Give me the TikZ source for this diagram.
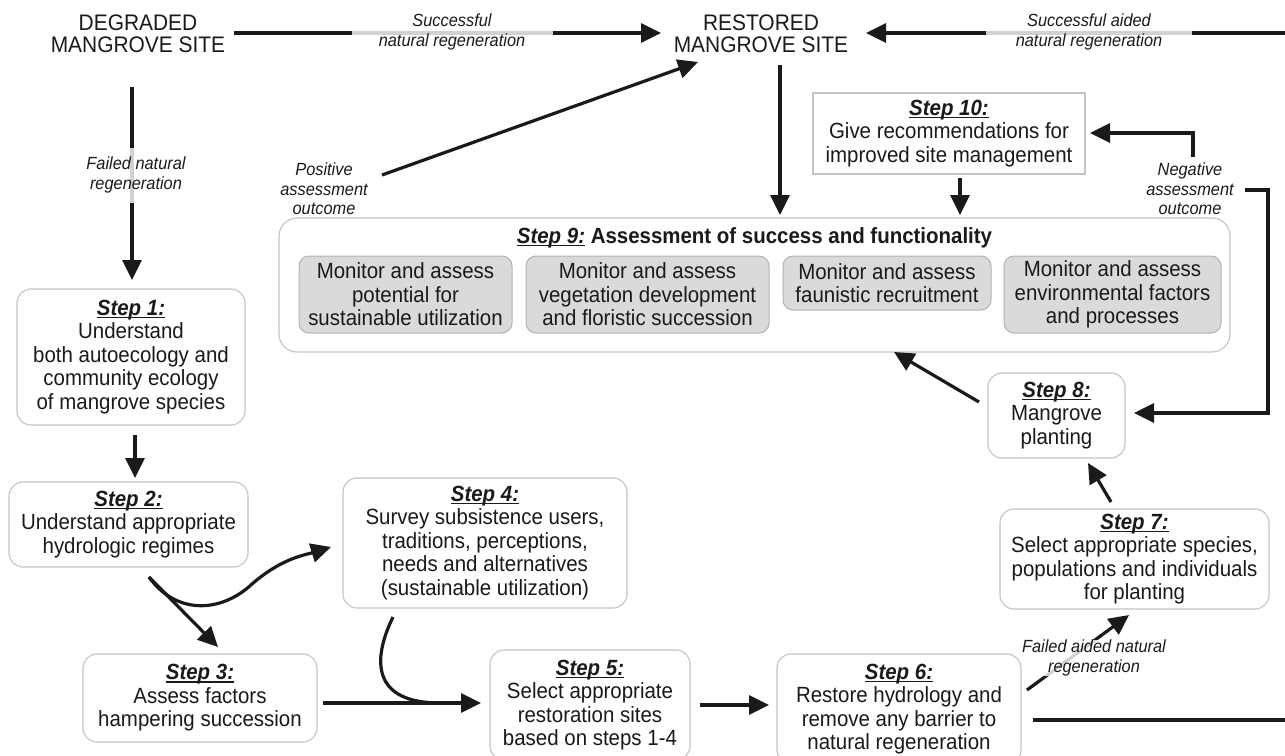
\documentclass[tikz,border=0pt]{standalone}
\usepackage{fontspec}
\setmainfont{Liberation Sans}[FakeStretch=0.93]
\usetikzlibrary{arrows.meta,calc}
\definecolor{ink}{HTML}{1A1A1A}
\definecolor{boxgray}{HTML}{C4C4C4}
\definecolor{fillgray}{HTML}{DADADA}
\definecolor{grayedge}{HTML}{B2B2B2}
\newcommand{\bodyfont}{\fontsize{22}{23.5}\selectfont}
\newcommand{\labfont}{\fontsize{17.6}{19.5}\selectfont\itshape}
\newcommand{\headfont}{\fontsize{22.5}{21.5}\selectfont}
\newcommand{\ulstep}[1]{\setbox0=\hbox{#1}\rlap{\rule[-2.6pt]{\wd0}{1.2pt}}\box0\relax}
\newcommand{\stp}[1]{{\bfseries\itshape\ulstep{Step #1:}}}
\begin{document}
\begin{tikzpicture}[x=1pt,y=-1pt,
  box/.style={draw=boxgray, line width=1.1pt, rounded corners=14pt, fill=white, align=center, inner sep=0pt, font=\bodyfont, text=ink},
  sqbox/.style={draw=boxgray, line width=1.1pt, fill=white, align=center, inner sep=0pt, font=\bodyfont, text=ink},
  graybox/.style={draw=grayedge, line width=1pt, rounded corners=10pt, fill=fillgray, align=center, inner sep=0pt, font=\bodyfont, text=ink, minimum height=#1},
  cont/.style={draw=boxgray, line width=1.1pt, rounded corners=18pt},
  head/.style={font=\headfont, align=center, text=ink, inner sep=0pt},
  lbl/.style={font=\labfont, align=center, text=ink, inner sep=0pt},
  lblfill/.style={lbl, fill=white, fill opacity=0.8, text opacity=1},
  ln/.style={line width=3.2pt, draw=ink},
  arr/.style={ln, -{Triangle[length=20pt,width=19pt]}}
]
\useasboundingbox (0,0) rectangle (1285,755);
\fill[white] (0,0) rectangle (1285,755);

% top row
\node[head] (deg) at (138,34) {DEGRADED\\MANGROVE SITE};
\node[head] (res) at (761,34) {RESTORED\\MANGROVE SITE};

% step 9 container
\node[cont, minimum width=951pt, minimum height=134pt] (s9) at (754.5,285) {};
\node[font=\bodyfont, text=ink, inner sep=0pt] (s9t) at (754.5,238) {\bfseries\ulstep{\itshape Step 9:} Assessment of success and functionality};
\node[graybox=77pt, minimum width=213pt] (g1) at (405.5,294.5) {Monitor and assess\\potential for\\sustainable utilization};
\node[graybox=77pt, minimum width=243pt] (g2) at (647.5,294.5) {Monitor and assess\\vegetation development\\and floristic succession};
\node[graybox=54pt, minimum width=208pt] (g3) at (887,283) {Monitor and assess\\faunistic recruitment};
\node[graybox=77pt, minimum width=217pt] (g4) at (1112.5,294.5) {Monitor and assess\\environmental factors\\and processes};

% step 10
\node[sqbox, minimum width=272pt, minimum height=81pt] (s10) at (949,133.5) {\stp{10}\\Give recommendations for\\improved site management};

% steps
\node[box, minimum width=228pt, minimum height=136pt] (s1) at (131,357) {\stp{1}\\Understand\\both autoecology and\\community ecology\\of mangrove species};
\node[box, minimum width=239pt, minimum height=85pt] (s2) at (128.5,524.5) {\stp{2}\\Understand appropriate\\hydrologic regimes};
\node[box, minimum width=234pt, minimum height=88pt] (s3) at (200,698) {\stp{3}\\Assess factors\\hampering succession};
\node[box, minimum width=284pt, minimum height=130pt] (s4) at (485,543) {\stp{4}\\Survey subsistence users,\\traditions, perceptions,\\needs and alternatives\\(sustainable utilization)};
\node[box, minimum width=200pt, minimum height=110pt] (s5) at (590,705) {\stp{5}\\Select appropriate\\restoration sites\\based on steps 1-4};
\node[box, minimum width=244pt, minimum height=110pt] (s6) at (899,709) {\stp{6}\\Restore hydrology and\\remove any barrier to\\natural regeneration};
\node[box, minimum width=269pt, minimum height=100pt] (s7) at (1134.5,559) {\stp{7}\\Select appropriate species,\\populations and individuals\\for planting};
\node[box, minimum width=137pt, minimum height=85pt] (s8) at (1056.5,415.5) {\stp{8}\\Mangrove\\planting};

% connector end points
\coordinate (degE) at (234,33);
\coordinate (resW) at (661,33);
\coordinate (resE) at (866,33);
\coordinate (rightTop) at (1290,33);
\coordinate (degS) at (132,87);
\coordinate (s1N) at (132,280);
\coordinate (posA) at (382,175);
\coordinate (resSW) at (698,62);
\coordinate (resS) at (780,65);
\coordinate (s9N1) at (780,215);
\coordinate (s10S) at (960,178);
\coordinate (s9N2) at (960,215);
\coordinate (negA) at (1193,157);
\coordinate (negB) at (1193,133);
\coordinate (s10E) at (1090,133);
\coordinate (negC) at (1245,190);
\coordinate (negD) at (1268,190);
\coordinate (negE) at (1268,413);
\coordinate (s8E) at (1134,413);
\coordinate (s8W) at (979,402);
\coordinate (s9S) at (894,352);
\coordinate (s7N) at (1111,502);
\coordinate (s8S) at (1088,463);
\coordinate (s6NE) at (1027,690);
\coordinate (s7S) at (1129,615);
\coordinate (s6E) at (1033,720);
\coordinate (rightBot) at (1290,720);
\coordinate (s5E) at (700,705);
\coordinate (s6W) at (769,705);
\coordinate (s3E) at (323,703);
\coordinate (s5W) at (481,703);
\coordinate (s4S) at (393,617);
\coordinate (join) at (440,703);
\coordinate (s2S) at (149,577);
\coordinate (s3N) at (218,647);
\coordinate (s4W) at (331,547);
\coordinate (s1S) at (135,435);
\coordinate (s2N) at (135,478);

% connectors
\draw[arr] (degE) -- (resW);
\node[lblfill, minimum width=201pt, minimum height=38pt] (l1) at (452,32) {Successful\\natural regeneration};
\draw[arr] (rightTop) -- (resE);
\node[lblfill, minimum width=206pt, minimum height=38pt] (l2) at (1089,32) {Successful aided\\natural regeneration};
\draw[arr] (degS) -- (s1N);
\node[lblfill, minimum height=55pt] (l3) at (136,175) {Failed natural\\regeneration};
\draw[arr] (posA) -- (resSW);
\node[lbl] (l4) at (324,189) {Positive\\assessment\\outcome};
\draw[arr] (resS) -- (s9N1);
\draw[arr] (s10S) -- (s9N2);
\draw[arr] (negA) -- (negB) -- (s10E);
\draw[arr] (negC) -- (negD) -- (negE) -- (s8E);
\node[lbl] (l5) at (1190,189) {Negative\\assessment\\outcome};
\draw[arr] (s8W) -- (s9S);
\draw[arr] (s7N) -- (s8S);
\draw[arr] (s6NE) -- (s7S);
\node[lblfill] (l6) at (1094,658) {Failed aided natural\\regeneration};
\draw[ln] (s6E) -- (rightBot);
\draw[arr] (s5E) -- (s6W);
\draw[arr] (s3E) -- (s5W);
\draw[ln] (s4S) .. controls (372,660) and (372,703) .. (join);
\draw[arr] (s2S) -- (s3N);
\draw[arr] (s2S) .. controls (175,614) and (220,614) .. (252,584) .. controls (282,558) and (305,555) .. (s4W);
\draw[arr] (s1S) -- (s2N);
\end{tikzpicture}
\end{document}
